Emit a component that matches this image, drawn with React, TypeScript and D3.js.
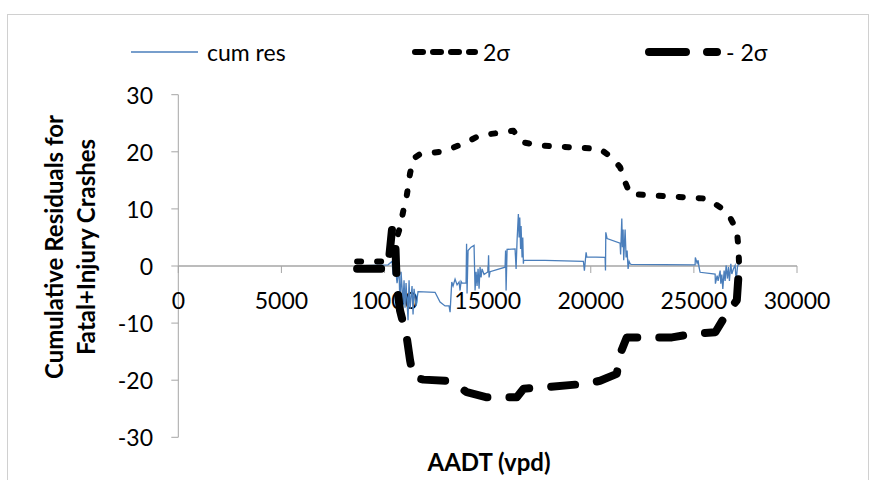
import React from 'react';
import * as d3 from 'd3';

const xTicks = [0, 5000, 10000, 15000, 20000, 25000, 30000];
const yTicks = [-30, -20, -10, 0, 10, 20, 30];

const cumResAADT = [8670, 10170, 10365, 10413, 10510, 10607, 10704, 10752, 10801, 10898, 10946, 10995, 11043, 11140, 11189, 11237, 11334, 11383, 11431, 11528, 11625, 12450, 12692, 12935, 13129, 13178, 13260, 13323, 13420, 13517, 13614, 13662, 13711, 13760, 13954, 13978, 14002, 14050, 14196, 14341, 14390, 14438, 14487, 14535, 14584, 14632, 14681, 14729, 14826, 15020, 15045, 15069, 15117, 15845, 15870, 15894, 15942, 16330, 16379, 16427, 16490, 16524, 16558, 16597, 16621, 16669, 16703, 16733, 16748, 17785, 19643, 19691, 19774, 19807, 20695, 20714, 20729, 20792, 21422, 21447, 21505, 21534, 21568, 21597, 21665, 21713, 21762, 21810, 21859, 21907, 21956, 25060, 25070, 25157, 25205, 25254, 25302, 26030, 26044, 26127, 26175, 26272, 26306, 26355, 26403, 26467, 26515, 26563, 26627, 26675, 26724, 26791, 26840, 26918, 27000, 27049, 27112, 27160, 27209];
const cumResValue = [0, 0.2, 0.8, -1.5, 0.5, -3.0, -0.5, -8.0, -1.0, -6.5, -2.5, -7.3, -3.0, -9.5, -2.5, -7.5, -3.5, -8.5, -4.0, -7.0, -4.5, -4.6, -6.3, -7.0, -7.0, -8.1, -2.8, -3.5, -2.3, -3.3, -2.8, -4.3, -2.7, -3.0, -3.0, 3.9, -4.8, 2.7, 3.3, 3.6, -4.3, -1.0, -3.5, -0.5, -4.0, -0.2, -2.0, -0.5, -1.5, -1.0, 1.9, -2.0, -1.0, -0.2, 2.7, -4.3, 2.9, 3.0, -0.5, 4.5, 9.1, 5.0, 8.5, 3.0, 7.0, 1.5, 5.0, 0.4, 1.0, 1.0, 0.8, -0.8, 2.4, 1.6, 1.5, -0.8, 5.9, 4.8, 4.0, 2.0, 8.3, 3.3, 6.4, 1.0, 6.4, 1.5, 2.7, -0.5, 0.8, 0.4, 0.3, 0.2, 1.5, 0.5, 1.0, -0.3, -1.1, -1.4, -3.1, -1.7, -2.6, -0.8, -3.1, -1.5, -4.0, -0.8, -2.6, 0.1, -2.2, -0.2, -2.6, 0.4, -1.4, -0.5, 0.1, -2.6, -0.2, 0.4, 0.2];

const plus2SigmaAADT = [8670, 10170, 10510, 10752, 10913, 11077, 11237, 11398, 11722, 12692, 13178, 13988, 14632, 15763, 16248, 16655, 17542, 20452, 21020, 21422, 21665, 21907, 25627, 26272, 26757, 27082, 27160, 27194];
const plus2SigmaValue = [0.8, 0.8, 3.9, 6.8, 9.7, 12.3, 16.2, 18.8, 19.6, 20.0, 20.5, 21.7, 22.9, 23.4, 23.7, 21.7, 21.1, 20.5, 19.0, 17.3, 14.7, 12.6, 11.8, 10.3, 8.5, 6.2, 3.3, 0];

const minus2SigmaAADT = [8670, 10170, 10365, 10510, 10560, 10610, 10752, 11077, 11237, 11398, 11884, 13016, 13500, 13988, 14960, 16415, 16740, 17873, 19813, 20452, 21260, 21422, 21745, 23938, 24908, 26040, 26525, 27082, 27194];
const minus2SigmaValue = [-0.5, -0.5, 6.5, 5.5, 0, -3.7, -7.8, -12.5, -16.5, -19.5, -19.9, -20.1, -20.9, -22.1, -23.0, -23.0, -21.5, -21.2, -20.6, -20.1, -18.9, -15.4, -12.5, -12.5, -11.9, -11.6, -8.7, -6.0, 0];

const legendLabels = ['cum res', '2σ', '- 2σ'];

const FONT = 'Lato, "Open Sans", sans-serif';

export default function App() {
  const x = d3.scaleLinear().domain([0, 30000]).range([178.3, 797]);
  const y = d3.scaleLinear().domain([-30, 30]).range([437.3, 94.7]);
  const line = d3.line<[number, number]>().x(d => x(d[0])).y(d => y(d[1]));
  const cumPts = cumResAADT.map((a, i) => [a, cumResValue[i]] as [number, number]);
  const plusPts = plus2SigmaAADT.map((a, i) => [a, plus2SigmaValue[i]] as [number, number]);
  const minusPts = minus2SigmaAADT.map((a, i) => [a, minus2SigmaValue[i]] as [number, number]);
  const axisColor = '#a6a6a6';
  const blue = '#4a7ebb';

  return (
    <svg width={871} height={480} style={{ position: 'absolute', left: 0, top: 0, background: '#fff' }} fontFamily={FONT}>
      <rect x={7.5} y={14.5} width={861} height={470} fill="#fff" stroke="#d0d0d0" strokeWidth={1} />
      {/* legend */}
      <g>
        <line x1={131} x2={198} y1={52} y2={52} stroke={blue} strokeWidth={1.5} />
        <text x={207} y={52} dominantBaseline="central" fontSize={23} fill="#000">{legendLabels[0]}</text>
        <line x1={415} x2={475} y1={52} y2={52} stroke="#000" strokeWidth={6} strokeLinecap="round" strokeDasharray="8 10" />
        <text x={483} y={52} dominantBaseline="central" fontSize={23} fill="#000">{legendLabels[1]}</text>
        <line x1={649} x2={717} y1={52} y2={52} stroke="#000" strokeWidth={8} strokeLinecap="round" strokeDasharray="37 21 10 30" />
        <text x={726} y={52} dominantBaseline="central" fontSize={23} fill="#000">{legendLabels[2]}</text>
      </g>
      {/* y axis */}
      <line x1={x(0)} x2={x(0)} y1={y(30)} y2={y(-30)} stroke={axisColor} strokeWidth={1} />
      {yTicks.map(t => (
        <g key={'y' + t}>
          <line x1={x(0) - 7} x2={x(0)} y1={y(t)} y2={y(t)} stroke={axisColor} strokeWidth={1} />
          <text x={153} y={y(t)} textAnchor="end" dominantBaseline="central" fontSize={23} fill="#000">{t}</text>
        </g>
      ))}
      {/* x axis */}
      <line x1={x(0)} x2={x(30000)} y1={y(0)} y2={y(0)} stroke={axisColor} strokeWidth={1.5} />
      {xTicks.map(t => (
        <g key={'x' + t}>
          <line x1={x(t)} x2={x(t)} y1={y(0)} y2={y(0) + 7} stroke={axisColor} strokeWidth={1} />
          <text x={x(t)} y={300} textAnchor="middle" dominantBaseline="central" fontSize={23} fill="#000">{t}</text>
        </g>
      ))}
      {/* axis titles */}
      <text x={489} y={461} textAnchor="middle" dominantBaseline="central" fontSize={24} fontWeight="bold" fill="#000">AADT (vpd)</text>
      <g transform="translate(69,247) rotate(-90)">
        <text x={0} y={-16} textAnchor="middle" dominantBaseline="central" fontSize={24} fontWeight="bold" fill="#000">Cumulative Residuals for</text>
        <text x={0} y={16} textAnchor="middle" dominantBaseline="central" fontSize={24} fontWeight="bold" fill="#000">Fatal+Injury Crashes</text>
      </g>
      {/* series */}
      <path d={line(cumPts) || ''} fill="none" stroke={blue} strokeWidth={1.3} />
      <path d={line(plusPts) || ''} fill="none" stroke="#000" strokeWidth={6} strokeLinecap="round" strokeLinejoin="round" strokeDasharray="4 16" />
      <path d={line(minusPts) || ''} fill="none" stroke="#000" strokeWidth={8} strokeLinecap="round" strokeLinejoin="round" strokeDasharray="24 22" />
    </svg>
  );
}
